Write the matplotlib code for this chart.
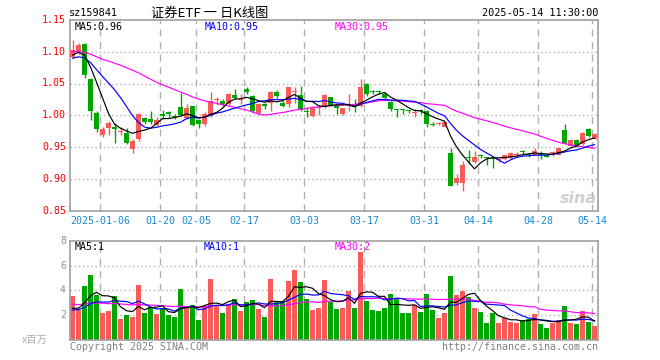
import matplotlib
matplotlib.use("Agg")
import matplotlib.pyplot as plt
import numpy as np
import pandas as pd

# ---------------- data ----------------
open_ = [1.092, 1.099, 1.112, 1.057, 1.003, 0.969, 0.980, 0.982, 0.973, 0.972,
         0.947, 0.962, 0.996, 0.994, 0.985, 1.002, 1.005, 0.999, 1.013, 0.996,
         1.014, 0.992, 0.986, 0.999, 1.024, 1.023, 1.018, 1.032, 1.024, 1.042,
         1.030, 1.003, 1.018, 1.019, 1.037, 1.020, 1.017, 1.036, 1.032, 1.007,
         0.999, 1.011, 1.014, 1.028, 1.016, 1.002, 1.014, 1.015, 1.015, 1.049,
         1.038, 1.037, 1.034, 1.021, 1.010, 1.010, 1.007, 1.004, 1.007, 1.006,
         0.986, 0.986, 0.982, 0.941, 0.893, 0.894, 0.933, 0.926, 0.937, 0.934,
         0.932, 0.930, 0.931, 0.932, 0.938, 0.943, 0.938, 0.938, 0.941, 0.938,
         0.940, 0.938, 0.976, 0.952, 0.961, 0.954, 0.979, 0.963]
high = [1.119, 1.113, 1.114, 1.058, 1.006, 0.981, 0.991, 0.988, 0.981, 0.980,
        0.963, 1.003, 0.998, 1.007, 0.997, 1.009, 1.007, 1.002, 1.035, 1.017,
        1.015, 0.994, 1.005, 1.037, 1.029, 1.025, 1.035, 1.042, 1.034, 1.044,
        1.032, 1.020, 1.020, 1.038, 1.039, 1.023, 1.045, 1.045, 1.046, 1.013,
        1.013, 1.015, 1.034, 1.029, 1.017, 1.012, 1.033, 1.025, 1.057, 1.051,
        1.040, 1.040, 1.036, 1.022, 1.010, 1.010, 1.009, 1.010, 1.010, 1.008,
        0.989, 0.990, 0.990, 0.949, 0.907, 0.928, 0.946, 0.944, 0.939, 0.935,
        0.933, 0.933, 0.938, 0.942, 0.942, 0.945, 0.941, 0.948, 0.943, 0.939,
        0.944, 0.949, 0.986, 0.963, 0.962, 0.974, 0.980, 0.972]
low = [1.090, 1.096, 1.059, 0.993, 0.974, 0.966, 0.969, 0.956, 0.969, 0.955,
       0.941, 0.960, 0.987, 0.986, 0.983, 0.994, 0.997, 0.994, 0.999, 0.994,
       0.983, 0.980, 0.983, 0.997, 1.016, 1.015, 1.016, 1.025, 1.018, 1.034,
       1.005, 1.001, 1.010, 1.007, 1.027, 1.013, 1.013, 1.019, 1.006, 0.998,
       0.998, 1.000, 1.012, 1.015, 1.002, 1.001, 1.007, 1.005, 1.013, 1.031,
       1.033, 1.033, 1.026, 1.006, 0.998, 1.002, 1.003, 0.998, 1.002, 0.981,
       0.983, 0.984, 0.981, 0.888, 0.890, 0.881, 0.923, 0.925, 0.933, 0.922,
       0.917, 0.927, 0.930, 0.931, 0.935, 0.937, 0.934, 0.937, 0.931, 0.934,
       0.936, 0.937, 0.955, 0.951, 0.950, 0.953, 0.966, 0.962]
close = [1.102, 1.111, 1.063, 1.007, 0.978, 0.978, 0.988, 0.979, 0.975, 0.957,
         0.959, 1.002, 0.990, 0.990, 0.993, 0.999, 1.002, 0.998, 1.001, 1.011,
         0.985, 0.986, 1.002, 1.023, 1.026, 1.018, 1.033, 1.027, 1.026, 1.037,
         1.007, 1.018, 1.014, 1.037, 1.030, 1.015, 1.044, 1.038, 1.008, 1.005,
         1.012, 1.012, 1.032, 1.016, 1.011, 1.011, 1.015, 1.014, 1.045, 1.034,
         1.037, 1.036, 1.027, 1.010, 1.009, 1.008, 1.006, 1.005, 1.006, 0.987,
         0.985, 0.987, 0.989, 0.889, 0.901, 0.921, 0.932, 0.935, 0.936, 0.932,
         0.931, 0.931, 0.937, 0.941, 0.939, 0.942, 0.937, 0.944, 0.937, 0.935,
         0.941, 0.948, 0.957, 0.961, 0.951, 0.972, 0.967, 0.970]
volume = [3.55, 2.42, 4.35, 5.24, 3.63, 2.20, 2.34, 3.55, 1.69, 2.02,
          1.85, 4.44, 2.18, 2.63, 2.10, 2.47, 2.02, 1.85, 4.11, 2.61,
          2.82, 1.61, 2.74, 4.92, 2.80, 2.18, 2.82, 3.31, 2.34, 3.06,
          3.23, 2.50, 1.85, 4.92, 3.05, 3.05, 4.76, 5.65, 4.70, 3.31,
          2.42, 2.58, 4.84, 3.10, 2.51, 2.59, 3.97, 2.59, 7.10, 3.14,
          2.42, 2.34, 2.59, 3.70, 3.30, 2.19, 2.19, 2.80, 2.27, 3.70,
          2.43, 1.78, 2.17, 5.15, 3.66, 3.96, 3.47, 2.60, 2.25, 1.37,
          2.17, 1.37, 1.78, 1.45, 1.37, 1.62, 1.69, 2.11, 1.29, 0.97,
          1.37, 1.61, 2.74, 1.37, 1.29, 2.34, 1.45, 1.13]
# history before the first visible day (feeds the moving averages)
pre_close = [1.10, 1.11, 1.09, 1.10, 1.10, 1.07, 1.08, 1.07, 1.08, 1.07,
             1.13, 1.14, 1.14, 1.136, 1.12, 1.11, 1.12, 1.11, 1.12, 1.11,
             1.09, 1.08, 1.08, 1.09, 1.085, 1.09, 1.085, 1.10, 1.097]
pre_volume = [3.2, 2.8, 3.5, 3.0, 2.9, 3.4, 3.1, 2.7, 3.3, 3.0,
              3.2, 3.4, 2.9, 3.1, 3.0, 3.3, 2.8, 3.2, 3.3, 3.1,
              2.2, 2.5, 2.1, 2.4, 2.25, 2.4, 2.2, 2.3, 2.3]
date_labels = ["2025-01-06", "01-20", "02-05", "02-17", "03-03",
               "03-17", "03-31", "04-14", "04-28", "05-14"]
date_index = [5, 15, 21, 29, 39, 49, 59, 68, 78, 87]
price_ticks = [1.15, 1.10, 1.05, 1.00, 0.95, 0.90, 0.85]
vol_ticks = [8, 6, 4, 2]

# ---------------- style ----------------
W, H = 660, 360
RED = "#f95b5b"
GREEN = "#00a600"
GRID = "#b0b0b0"
BORDER = "#a0a0a0"
MONO = "DejaVu Sans Mono"
CJK = ["Noto Sans CJK SC", "DejaVu Sans"]
LW = 0.85

n = len(close)
xc = np.arange(n) + 2.5 / 6
bw = 5 / 6
XMAX = 527.5 / 6


def rect(l, t, r, b):
    return [l / W, 1 - b / H, (r - l) / W, (b - t) / H]


def ma(series, pre, w):
    s = pd.Series(list(pre) + list(series), dtype=float)
    return s.rolling(w).mean().to_numpy()[len(pre):]


fig = plt.figure(figsize=(W / 100, H / 100), dpi=100)
fig.patch.set_facecolor("white")

ax = fig.add_axes(rect(70, 20, 597.5, 210.5))
axv = fig.add_axes(rect(70, 240.7, 597.5, 340))

o = np.array(open_); c = np.array(close); hi = np.array(high); lo = np.array(low)
up = c >= o
colors = np.where(up, RED, GREEN)

# grid
for a in (ax, axv):
    for gi in date_index:
        a.axvline(gi, color=GRID, lw=1.0, ls=(0, (5, 4)), zorder=0)
for p in [1.10, 1.05, 1.00, 0.95, 0.90]:
    ax.axhline(p, color=GRID, lw=1.0, ls=(0, (1, 2)), zorder=0)
for v in [6, 4, 2]:
    axv.axhline(v, color=GRID, lw=1.0, ls=(0, (1, 2)), zorder=0)

# candles
ax.vlines(xc, lo, hi, colors=colors, lw=1.0, zorder=2)
body_bottom = np.minimum(o, c)
body_h = np.maximum(np.abs(c - o), 0.0016)
ax.bar(xc, body_h, bottom=body_bottom, width=bw, color=colors,
       edgecolor="none", linewidth=0, zorder=3)

# price MAs
ma5 = ma(close, pre_close, 5)
ma10 = ma(close, pre_close, 10)
ma30 = ma(close, pre_close, 30)
ax.plot(xc, ma30, color="#ff00ff", lw=LW, zorder=4)
ax.plot(xc, ma10, color="#0000ff", lw=LW, zorder=4)
ax.plot(xc, ma5, color="black", lw=LW, zorder=4)

ax.set_xlim(0, XMAX)
ax.set_ylim(0.85, 1.15)

# volume
axv.bar(xc, volume, width=bw, color=colors, edgecolor="none", linewidth=0, zorder=2)
vma5 = ma(volume, pre_volume, 5)
vma10 = ma(volume, pre_volume, 10)
vma30 = ma(volume, pre_volume, 30)
axv.plot(xc, vma30, color="#ff00ff", lw=LW, zorder=4)
axv.plot(xc, vma10, color="#0000ff", lw=LW, zorder=4)
axv.plot(xc, vma5, color="black", lw=LW, zorder=4)
axv.set_xlim(0, XMAX)
axv.set_ylim(0, 8)

for a in (ax, axv):
    a.set_xticks([]); a.set_yticks([])
    for s in a.spines.values():
        s.set_color(BORDER); s.set_linewidth(1.2)
    a.set_facecolor("white")


def ftext(x, y, s, **kw):
    fig.text(x / W, 1 - y / H, s, **kw)


# price tick labels
for p in price_ticks:
    y = 210.5 - (p - 0.85) / 0.30 * 190.5
    ftext(66, y, f"{p:.2f}", color="#ff0000", fontsize=7.2, family=MONO,
          ha="right", va="center")
# volume tick labels
for v in vol_ticks:
    y = 340 - v * (99.3 / 8)
    ftext(66, y, f"{v}", color="#909090", fontsize=7.2, family=MONO,
          ha="right", va="center")

# date labels
for lab, gi in zip(date_labels, date_index):
    x = 70 + gi * 6
    ftext(x, 221.5, lab, color="#1a88d0", fontsize=7.2, family=MONO,
          ha="center", va="center")

# header
ftext(69, 13, "sz159841", color="black", fontsize=7.4, family=MONO, ha="left", va="center")
ftext(210, 13, "证券ETF 一 日K线图", color="black", fontsize=9.5, family=CJK,
      ha="center", va="center")
ftext(598, 13, "2025-05-14 11:30:00", color="black", fontsize=7.4, family=MONO,
      ha="right", va="center")

# MA labels
ftext(75, 27, f"MA5:{ma5[-1]:.2f}", color="black", fontsize=7.2, family=MONO, ha="left", va="center")
ftext(205, 27, f"MA10:{ma10[-1]:.2f}", color="#0000ff", fontsize=7.2, family=MONO, ha="left", va="center")
ftext(335, 27, f"MA30:{ma30[-1]:.2f}", color="#ff00ff", fontsize=7.2, family=MONO, ha="left", va="center")
ftext(75, 246.5, f"MA5:{int(vma5[-1])}", color="black", fontsize=7.2, family=MONO, ha="left", va="center")
ftext(204, 246.5, f"MA10:{int(vma10[-1])}", color="#0000ff", fontsize=7.2, family=MONO, ha="left", va="center")
ftext(335, 246.5, f"MA30:{int(vma30[-1])}", color="#ff00ff", fontsize=7.2, family=MONO, ha="left", va="center")

# watermark
ftext(597, 198, "sina", color="#c8c8c8", fontsize=11.5, fontweight="bold", style="italic",
      family="DejaVu Sans", ha="right", va="center", alpha=0.85)

# footer
ftext(22, 340, "x百万", color="#b0b0b0", fontsize=7.5, family=CJK, ha="left", va="center")
ftext(70, 346.5, "Copyright 2025 SINA.COM", color="#808080", fontsize=7.2, family=MONO,
      ha="left", va="center")
ftext(598, 346.5, "http://finance.sina.com.cn", color="#808080", fontsize=7.2, family=MONO,
      ha="right", va="center")

fig.savefig("out.png", dpi=100, facecolor="white")
